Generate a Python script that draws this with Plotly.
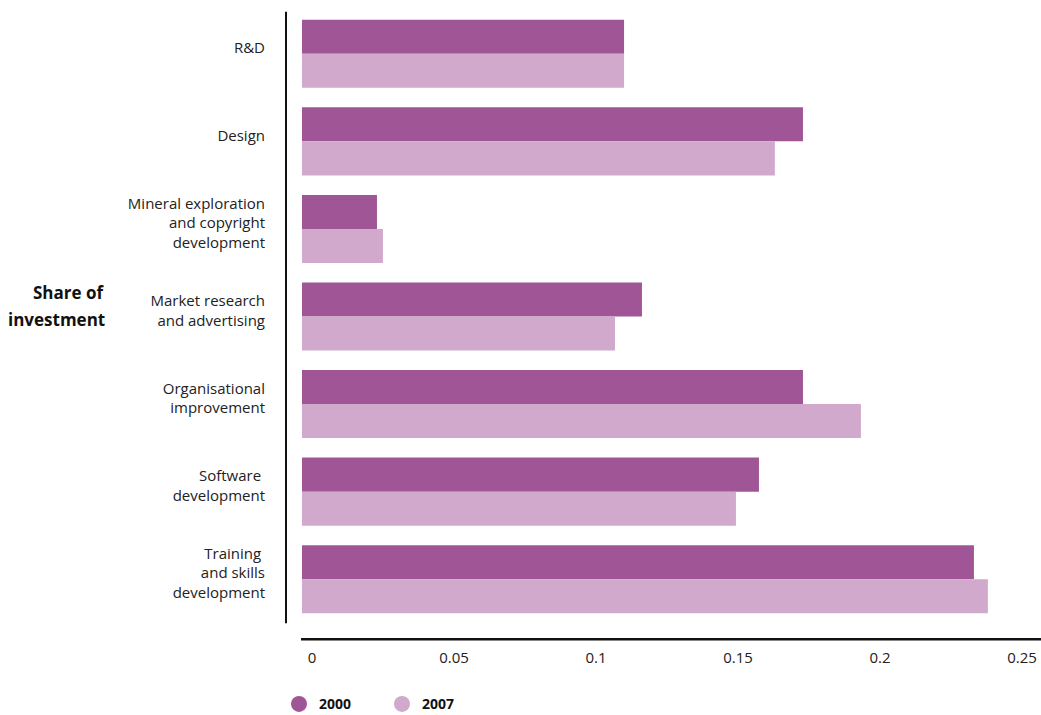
import plotly.graph_objects as go

# Categories (top to bottom) and share of investment by year
categories = [
    "R&D",
    "Design",
    "Mineral exploration<br>and copyright<br>development",
    "Market research<br>and advertising",
    "Organisational<br>improvement",
    "Software <br>development",
    "Training <br>and skills<br>development",
]
share_2000 = [0.1134, 0.1764, 0.0264, 0.1197, 0.1764, 0.1609, 0.2366]
share_2007 = [0.1134, 0.1665, 0.0285, 0.1102, 0.1968, 0.1528, 0.2415]
x_ticks = [0, 0.05, 0.1, 0.15, 0.2, 0.25]
x_tick_labels = ["0", "0.05", "0.1", "0.15", "0.2", "0.25"]

C2000 = "#A05596"
C2007 = "#D0A9CC"
FONT = "Open Sans"

W, H = 1041, 715
L, R, T, B = 302, 0, 10.25, 92.25
pw, ph = W - L - R, H - T - B


def px_x(p):
    return (p - L) / pw


def px_y(p):
    return 1 - (p - T) / ph


fig = go.Figure()
fig.add_trace(go.Bar(y=categories, x=share_2000, orientation="h", name="2000",
                     marker=dict(color=C2000, line=dict(width=0)), showlegend=False))
fig.add_trace(go.Bar(y=categories, x=share_2007, orientation="h", name="2007",
                     marker=dict(color=C2007, line=dict(width=0)), showlegend=False))

# Round legend keys
for name, col in [("2000", C2000), ("2007", C2007)]:
    fig.add_trace(go.Scatter(x=[None], y=[None], mode="markers", name=name,
                             marker=dict(color=col, size=16, symbol="circle")))

fig.update_layout(
    width=W, height=H,
    margin=dict(l=L, r=R, t=T, b=B, pad=0, autoexpand=False),
    paper_bgcolor="white", plot_bgcolor="white",
    barmode="group", bargap=0.223, bargroupgap=0,
    font=dict(family=FONT, size=15, color="#222222"),
    xaxis=dict(range=[0, pw / 2840], tickvals=x_ticks, ticktext=x_tick_labels,
               showgrid=False, zeroline=False, showline=False, ticks="",
               ticklabelstandoff=24, ticklabelshift=10,
               tickfont=dict(size=15, color="#222222")),
    yaxis=dict(autorange="reversed", showgrid=False, zeroline=False, showline=False,
               ticks="", ticklabelstandoff=36, ticklabelshift=6,
               tickfont=dict(size=15, color="#222222")),
    legend=dict(orientation="h", x=px_x(279), xanchor="left", y=px_y(688), yanchor="top",
                font=dict(size=14, color="#111111", family=FONT, weight="bold"),
                entrywidth=58, entrywidthmode="pixels", itemclick=False,
                bgcolor="rgba(0,0,0,0)", tracegroupgap=0),
    shapes=[
        dict(type="line", xref="paper", yref="paper",
             x0=px_x(286), x1=px_x(286), y0=px_y(12), y1=px_y(623),
             line=dict(color="#111111", width=2)),
        dict(type="line", xref="paper", yref="paper",
             x0=px_x(301), x1=px_x(1041), y0=px_y(639), y1=px_y(639),
             line=dict(color="#111111", width=2.5)),
    ],
    annotations=[
        dict(text="<b>Share of</b>", xref="paper", yref="paper", x=px_x(107), y=px_y(293),
             xanchor="right", yanchor="middle", showarrow=False,
             font=dict(size=17, color="#111111")),
        dict(text="<b>investment</b>", xref="paper", yref="paper", x=px_x(107), y=px_y(319),
             xanchor="right", yanchor="middle", showarrow=False,
             font=dict(size=17, color="#111111")),
    ],
)

fig.write_html("out.html")
